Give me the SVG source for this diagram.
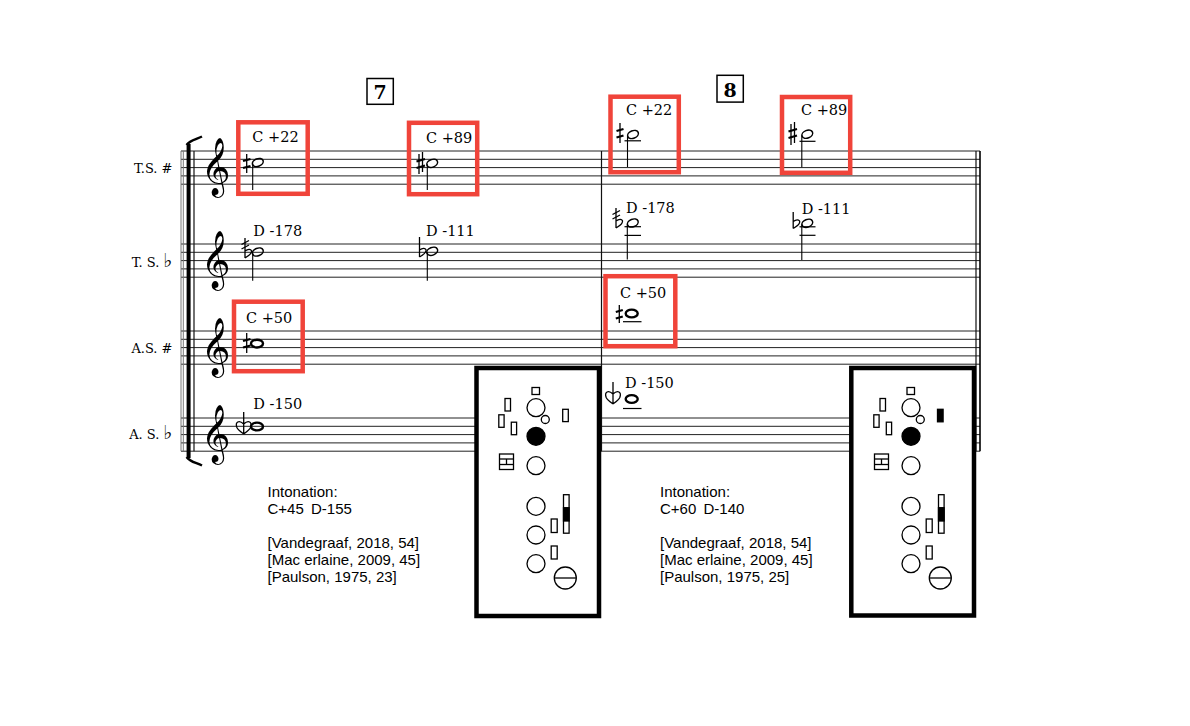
<svg xmlns="http://www.w3.org/2000/svg" width="1190" height="726" viewBox="0 0 1190 726">
<style>
.staff line{stroke:#222;stroke-width:1}
.bar{stroke:#111;stroke-width:1.2}
.lbl{font-family:"DejaVu Serif","Liberation Serif",serif;font-size:13px;fill:#000;text-anchor:end}
.fl{font-family:"DejaVu Sans","Noto Sans",sans-serif;font-size:19px;font-weight:bold;fill:#000}
.nl{font-family:"DejaVu Serif","Liberation Serif",serif;font-size:14.5px;fill:#000}
.clef{font-family:"DejaVu Sans","Noto Sans",sans-serif;font-size:50px;fill:#000}
.mnum{font-family:"DejaVu Serif","Liberation Serif",serif;font-size:19px;font-weight:bold;text-anchor:middle;fill:#000}
.mbox{fill:none;stroke:#000;stroke-width:1.5}
.red{fill:none;stroke:#f0443a;stroke-width:4.5}
.hh{fill:none;stroke:#000;stroke-width:1.5}
.wh{fill:none;stroke:#000;stroke-width:2.4}
.stem{stroke:#000;stroke-width:1.1}
.led{stroke:#000;stroke-width:1.2}
.acc{stroke:#000;stroke-width:1.3;fill:none}
.accb{stroke:#000;stroke-width:2.3}
.info{font-family:"Liberation Sans",Arial,sans-serif;font-size:15px;fill:#000}
.fr{fill:#fff;stroke:#000;stroke-width:4.5}
.k{fill:#fff;stroke:#000;stroke-width:1.3}
.kf{fill:#000;stroke:#000;stroke-width:1.3}
</style>
<defs>
<g id="chart">
<rect class="k" x="532" y="387.5" width="7.5" height="7"/>
<circle class="k" cx="536" cy="407.7" r="9"/>
<circle class="k" cx="545.3" cy="419.5" r="4"/>
<rect class="k" x="505" y="398.5" width="5.5" height="12.5"/>
<rect class="k" x="498.8" y="414.8" width="5.3" height="12.5"/>
<rect class="k" x="511.3" y="422.2" width="5.3" height="12.5"/>
<circle class="kf" cx="536" cy="436.3" r="9"/>
<rect class="k" x="499.5" y="454" width="14" height="15.5"/>
<line class="k" x1="499.5" y1="459" x2="513.5" y2="459"/>
<line class="k" x1="499.5" y1="464.5" x2="513.5" y2="464.5"/>
<line class="k" x1="506.5" y1="459" x2="506.5" y2="464.5"/>
<circle class="k" cx="536" cy="465.7" r="9"/>
<circle class="k" cx="536" cy="506.3" r="9"/>
<circle class="k" cx="536" cy="535" r="9"/>
<circle class="k" cx="536" cy="563.7" r="9"/>
<rect class="k" x="563.5" y="494.7" width="5.6" height="38.5"/>
<rect class="kf" x="563.5" y="507.7" width="5.6" height="13.3"/>
<rect class="k" x="551.2" y="519" width="6" height="13.5"/>
<rect class="k" x="551.2" y="546" width="6" height="13"/>
<circle class="k" cx="565.3" cy="578" r="11"/>
<line class="k" x1="554.3" y1="578" x2="576.3" y2="578"/>
</g>
</defs>
<rect width="1190" height="726" fill="#fff"/>

<g id="staves" class="staff">
<line x1="181" y1="151" x2="980" y2="151"/><line x1="181" y1="159.3" x2="980" y2="159.3"/><line x1="181" y1="167.6" x2="980" y2="167.6"/><line x1="181" y1="175.9" x2="980" y2="175.9"/><line x1="181" y1="184.2" x2="980" y2="184.2"/>
<line x1="181" y1="244" x2="980" y2="244"/><line x1="181" y1="252.3" x2="980" y2="252.3"/><line x1="181" y1="260.6" x2="980" y2="260.6"/><line x1="181" y1="268.9" x2="980" y2="268.9"/><line x1="181" y1="277.2" x2="980" y2="277.2"/>
<line x1="181" y1="331" x2="980" y2="331"/><line x1="181" y1="339.3" x2="980" y2="339.3"/><line x1="181" y1="347.6" x2="980" y2="347.6"/><line x1="181" y1="355.9" x2="980" y2="355.9"/><line x1="181" y1="364.2" x2="980" y2="364.2"/>
<line x1="181" y1="418" x2="980" y2="418"/><line x1="181" y1="426.3" x2="980" y2="426.3"/><line x1="181" y1="434.6" x2="980" y2="434.6"/><line x1="181" y1="442.9" x2="980" y2="442.9"/><line x1="181" y1="451.2" x2="980" y2="451.2"/>
</g>

<g id="system">
<line x1="181" y1="151" x2="181" y2="451.2" stroke="#777" stroke-width="1"/>
<line x1="183.3" y1="151" x2="183.3" y2="451.2" stroke="#777" stroke-width="1"/>
<path d="M188.6,144 L188.6,458" stroke="#000" stroke-width="4" fill="none"/>
<path d="M186.6,145 C190,140 196,139.5 202,136.5" stroke="#000" stroke-width="2.5" fill="none"/>
<path d="M186.6,457 C190,462 196,462.5 202,465.5" stroke="#000" stroke-width="2.5" fill="none"/>
<line class="bar" x1="194" y1="151" x2="194" y2="451.2"/>
<line class="bar" x1="601.5" y1="151" x2="601.5" y2="451.2"/>
<line class="bar" x1="976" y1="151" x2="976" y2="451.2"/>
<line x1="980" y1="151" x2="980" y2="451.2" stroke="#000" stroke-width="1.6"/>
<text class="clef" x="201" y="183">𝄞</text>
<text class="clef" x="201" y="276">𝄞</text>
<text class="clef" x="201" y="363">𝄞</text>
<text class="clef" x="201" y="450">𝄞</text>
</g>

<g id="labels">
<text class="lbl" x="172.5" y="172.7">T.S. #</text>
<text class="lbl" x="172.5" y="267.3">T. S. <tspan class="fl">♭</tspan></text>
<text class="lbl" x="172.5" y="353.3">A.S. #</text>
<text class="lbl" x="172.5" y="439.3">A. S. <tspan class="fl">♭</tspan></text>
</g>

<g id="measure-7">
<rect class="mbox" x="367" y="78.5" width="26.3" height="25.8"/>
<text class="mnum" x="380.2" y="99">7</text>
</g>
<g id="measure-8">
<rect class="mbox" x="717" y="75.3" width="26.3" height="26.8"/>
<text class="mnum" x="730.2" y="96.6">8</text>
</g>

<g id="m7-ts-sharp">
<rect class="red" x="238.3" y="122.3" width="69.4" height="71.5"/>
<text class="nl" x="252.3" y="142.3">C +22</text>
<line class="acc" x1="246.7" y1="154" x2="246.7" y2="173"/>
<line class="accb" x1="243" y1="161" x2="250.5" y2="159"/>
<line class="accb" x1="243" y1="168" x2="250.5" y2="166"/>
<ellipse class="hh" cx="257.8" cy="162.5" rx="5.6" ry="3.8" transform="rotate(-22 257.8 162.5)"/>
<line class="stem" x1="252.7" y1="163.5" x2="252.7" y2="190"/>
</g>
<g id="m7-ts-sharp-2">
<rect class="red" x="409" y="122.8" width="68.2" height="71.4"/>
<text class="nl" x="426" y="142.7">C +89</text>
<line class="acc" x1="419" y1="154" x2="419" y2="174"/>
<line class="acc" x1="422.5" y1="152" x2="422.5" y2="172"/>
<line class="accb" x1="416.5" y1="161.5" x2="425" y2="159"/>
<line class="accb" x1="416.5" y1="168" x2="425" y2="165.5"/>
<ellipse class="hh" cx="432.2" cy="163.3" rx="5.6" ry="3.8" transform="rotate(-22 432.2 163.3)"/>
<line class="stem" x1="427.3" y1="164.3" x2="427.3" y2="190"/>
</g>

<g id="m7-ts-flat">
<text class="nl" x="253.3" y="236">D -178</text>
<path class="acc" d="M245,238 L245,258 M245,251 C249,248 253,249.5 251,253 C250,255 247.5,256.5 245,258"/>
<line class="acc" x1="241.5" y1="244.5" x2="249" y2="240.5"/>
<line class="acc" x1="241.5" y1="249" x2="249" y2="245"/>
<ellipse class="hh" cx="257.8" cy="252" rx="5.6" ry="3.8" transform="rotate(-22 257.8 252)"/>
<line class="stem" x1="252.7" y1="253" x2="252.7" y2="280.7"/>
</g>
<g id="m7-ts-flat-2">
<text class="nl" x="426" y="235.7">D -111</text>
<path class="acc" d="M419.5,237 L419.5,257 M419.5,250 C423.5,247 427.5,248.5 425.5,252 C424.5,254 422,255.5 419.5,257"/>
<ellipse class="hh" cx="432.2" cy="251.3" rx="5.6" ry="3.8" transform="rotate(-22 432.2 251.3)"/>
<line class="stem" x1="427.3" y1="252.3" x2="427.3" y2="280.7"/>
</g>

<g id="m7-as-sharp">
<rect class="red" x="234" y="301.7" width="68.7" height="69.5"/>
<text class="nl" x="246" y="323.3">C +50</text>
<line class="acc" x1="246.7" y1="333" x2="246.7" y2="353"/>
<line class="accb" x1="243" y1="341" x2="250.5" y2="339"/>
<line class="accb" x1="243" y1="347.5" x2="250.5" y2="345.5"/>
<ellipse class="wh" cx="257" cy="343.6" rx="6" ry="3.9"/>
</g>

<g id="m7-as-flat">
<text class="nl" x="253.3" y="409">D -150</text>
<path class="acc" stroke-width="1.5" d="M243.7,412 L243.7,434 M243.7,424 C248.5,419.5 252.5,422 250.5,427.5 C249.5,430 246.5,432 243.7,434 M243.7,424 C238.9,419.5 234.9,422 236.9,427.5 C237.9,430 240.9,432 243.7,434"/>
<ellipse class="wh" cx="257" cy="426.5" rx="6" ry="3.9"/>
</g>

<g id="m8-ts-sharp">
<rect class="red" x="610.5" y="96.7" width="68.3" height="75.5"/>
<text class="nl" x="626" y="115">C +22</text>
<line class="acc" x1="620" y1="123" x2="620" y2="143"/>
<line class="accb" x1="616.5" y1="131" x2="623.5" y2="129"/>
<line class="accb" x1="616.5" y1="137.5" x2="623.5" y2="135.5"/>
<ellipse class="hh" cx="633" cy="134.5" rx="5.6" ry="3.8" transform="rotate(-22 633 134.5)"/>
<line class="led" x1="624.5" y1="140.8" x2="641" y2="140.8"/>
<line class="stem" x1="627.5" y1="135.5" x2="627.5" y2="167"/>
</g>
<g id="m8-ts-sharp-2">
<rect class="red" x="782" y="97" width="68.2" height="75.8"/>
<text class="nl" x="801" y="115">C +89</text>
<line class="acc" x1="791" y1="124" x2="791" y2="145"/>
<line class="acc" x1="794.5" y1="122" x2="794.5" y2="143"/>
<line class="accb" x1="788.5" y1="131.5" x2="797" y2="129"/>
<line class="accb" x1="788.5" y1="138" x2="797" y2="135.5"/>
<ellipse class="hh" cx="807.3" cy="134.2" rx="5.6" ry="3.8" transform="rotate(-22 807.3 134.2)"/>
<line class="led" x1="799.5" y1="141.3" x2="815.5" y2="141.3"/>
<line class="stem" x1="801.8" y1="135.2" x2="801.8" y2="167.3"/>
</g>

<g id="m8-ts-flat">
<text class="nl" x="626" y="213.3">D -178</text>
<path class="acc" d="M616,208 L616,228 M616,221 C620,218 624,219.5 622,223 C621,225 618.5,226.5 616,228"/>
<line class="acc" x1="612.5" y1="214.5" x2="620" y2="210.5"/>
<line class="acc" x1="612.5" y1="219" x2="620" y2="215"/>
<ellipse class="hh" cx="632.8" cy="223" rx="5.6" ry="3.8" transform="rotate(-22 632.8 223)"/>
<line class="led" x1="624.5" y1="226.7" x2="641" y2="226.7"/>
<line class="led" x1="624.5" y1="235.4" x2="641" y2="235.4"/>
<line class="stem" x1="627.3" y1="224" x2="627.3" y2="259.5"/>
</g>
<g id="m8-ts-flat-2">
<text class="nl" x="801.7" y="214">D -111</text>
<path class="acc" d="M793.2,212 L793.2,228.5 M793.2,221.5 C797.2,218.5 801.2,220 799.2,223.5 C798.2,225.5 795.7,227 793.2,228.5"/>
<ellipse class="hh" cx="807.3" cy="223.3" rx="5.6" ry="3.8" transform="rotate(-22 807.3 223.3)"/>
<line class="led" x1="799.5" y1="226.8" x2="815.5" y2="226.8"/>
<line class="led" x1="799.5" y1="235.3" x2="815.5" y2="235.3"/>
<line class="stem" x1="801.8" y1="224.3" x2="801.8" y2="260"/>
</g>

<g id="m8-as-sharp">
<rect class="red" x="605.5" y="276.2" width="69.8" height="70"/>
<text class="nl" x="620" y="298.3">C +50</text>
<line class="acc" x1="619.3" y1="305" x2="619.3" y2="323"/>
<line class="accb" x1="615.8" y1="312" x2="622.8" y2="310"/>
<line class="accb" x1="615.8" y1="318.5" x2="622.8" y2="316.5"/>
<ellipse class="wh" cx="631.7" cy="313.5" rx="6" ry="3.9"/>
<line class="led" x1="623" y1="321.7" x2="641.5" y2="321.7"/>
</g>

<g id="m8-as-flat">
<text class="nl" x="625" y="388.3">D -150</text>
<path class="acc" stroke-width="1.5" d="M613,382 L613,404 M613,394 C617.8,389.5 621.8,392 619.8,397.5 C618.8,400 615.8,402 613,404 M613,394 C608.2,389.5 604.2,392 606.2,397.5 C607.2,400 610.2,402 613,404"/>
<ellipse class="wh" cx="631.7" cy="399" rx="6" ry="3.9"/>
<line class="led" x1="623" y1="408.5" x2="641.5" y2="408.5"/>
</g>

<g id="fingering-1">
<rect class="fr" x="476.5" y="368" width="122.5" height="248"/>
<use href="#chart"/>
<rect class="k" x="562.7" y="409.3" width="5.6" height="12.3"/>
</g>
<g id="fingering-2">
<rect class="fr" x="851.3" y="368" width="122.7" height="247.5"/>
<use href="#chart" transform="translate(375 0)"/>
<rect class="kf" x="937.5" y="409.3" width="5.6" height="12.5"/>
</g>

<g id="info-1" class="info">
<text x="267.5" y="497">Intonation:</text>
<text y="514"><tspan x="267.5">C+45</tspan><tspan x="311">D-155</tspan></text>
<text x="267.5" y="548">[Vandegraaf, 2018, 54]</text>
<text x="267.5" y="565">[Mac erlaine, 2009, 45]</text>
<text x="267.5" y="582">[Paulson, 1975, 23]</text>
</g>
<g id="info-2" class="info">
<text x="660" y="497">Intonation:</text>
<text y="514"><tspan x="660">C+60</tspan><tspan x="703.5">D-140</tspan></text>
<text x="660" y="548">[Vandegraaf, 2018, 54]</text>
<text x="660" y="565">[Mac erlaine, 2009, 45]</text>
<text x="660" y="582">[Paulson, 1975, 25]</text>
</g>
</svg>
